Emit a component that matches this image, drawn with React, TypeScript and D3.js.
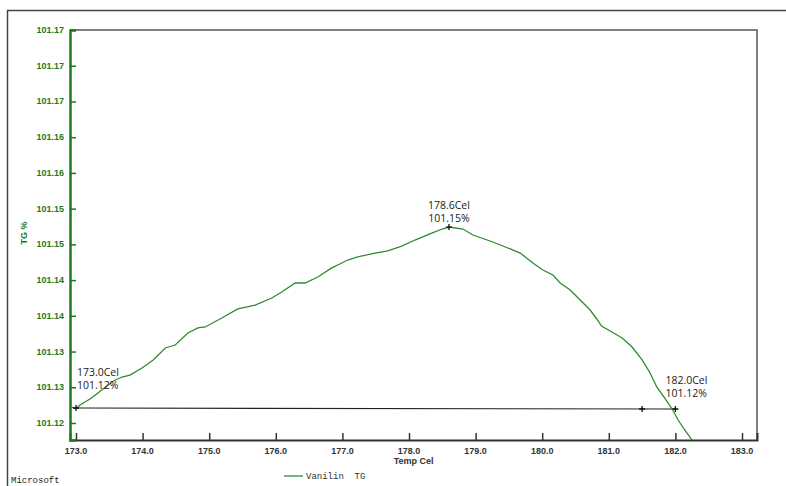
import React, { useRef, useEffect } from "react";
import * as d3 from "d3";

// Vanilin TG curve (Temp Cel, TG %)
const temps = [
  172.91, 172.97, 173.015, 173.06, 173.21, 173.33, 173.48, 173.59, 173.69, 173.81,
  173.99, 174.16, 174.34, 174.49, 174.68, 174.83, 174.94, 175.19, 175.43, 175.69,
  175.94, 176.09, 176.29, 176.44, 176.63, 176.84, 176.96, 177.08, 177.23, 177.49,
  177.68, 177.89, 178.09, 178.35, 178.5, 178.6, 178.81, 178.96, 179.26, 179.52,
  179.67, 179.86, 180.01, 180.16, 180.27, 180.42, 180.57, 180.72, 180.83, 180.89,
  181.02, 181.2, 181.35, 181.5, 181.62, 181.72, 181.84, 181.96, 182.04, 182.14,
  182.25,
];
const tg = [
  101.12504, 101.12477, 101.12477, 101.12517, 101.12596, 101.12675, 101.1278, 101.12846, 101.12885, 101.12911,
  101.13004, 101.13109, 101.13267, 101.13306, 101.13464, 101.1353, 101.13543, 101.13661, 101.1378, 101.13832,
  101.13924, 101.14003, 101.14122, 101.14122, 101.14201, 101.1432, 101.14372, 101.14424, 101.14464, 101.14516,
  101.14543, 101.14608, 101.14687, 101.1478, 101.14832, 101.14858, 101.14832, 101.14753, 101.14661, 101.1457,
  101.14516, 101.14385, 101.14293, 101.14227, 101.14122, 101.1403, 101.13898, 101.13766, 101.13635, 101.13556,
  101.1349, 101.13398, 101.1328, 101.13109, 101.12938, 101.12754, 101.12607, 101.12451, 101.12319, 101.12188,
  101.12056,
];

const xTicks = [173, 174, 175, 176, 177, 178, 179, 180, 181, 182, 183];
const yTicks = [
  101.1228, 101.1275, 101.1322, 101.1369, 101.1416, 101.1463,
  101.151, 101.1557, 101.1604, 101.1651, 101.1698, 101.1745,
];

// marked points and their labels
const marks = [
  { t: 173.0, v: 101.12477, lines: ["173.0Cel", "101.12%"], dx: 1, dy: -32, anchor: "start" },
  { t: 178.6, v: 101.14858, lines: ["178.6Cel", "101.15%"], dx: 0, dy: -18, anchor: "middle" },
  { t: 182.0, v: 101.12464, lines: ["182.0Cel", "101.12%"], dx: -10, dy: -25, anchor: "start" },
];
const baselineTick = 181.5;

const green = "#1d7a1d";
const curveColor = "#2e8b2e";

function App() {
  const svgRef = useRef<SVGSVGElement>(null);

  useEffect(() => {
    const svg = d3.select(svgRef.current);
    svg.selectAll("*").remove();

    const width = 786;
    const height = 486;
    const margin = { top: 30, right: 29, bottom: 46, left: 70 };

    const x = d3
      .scaleLinear()
      .domain([172.91, 183.225])
      .range([margin.left, width - margin.right]);
    const y = d3
      .scaleLinear()
      .domain([101.1228 - 0.476 * 0.0047, 101.1745])
      .range([height - margin.bottom, margin.top]);

    // outer frame
    svg
      .append("path")
      .attr("d", `M7.5,${height} V10.5 H${width}`)
      .attr("fill", "none")
      .attr("stroke", "#444")
      .attr("stroke-width", 1.5);

    // plot frame (top + right)
    svg
      .append("path")
      .attr(
        "d",
        `M${margin.left},${margin.top} H${width - margin.right} V${height - margin.bottom}`
      )
      .attr("fill", "none")
      .attr("stroke", "#555")
      .attr("stroke-width", 1.5);

    svg
      .append("defs")
      .append("clipPath")
      .attr("id", "plot-clip")
      .append("rect")
      .attr("x", margin.left)
      .attr("y", margin.top)
      .attr("width", width - margin.left - margin.right)
      .attr("height", height - margin.top - margin.bottom);

    // x axis
    const xAxis = svg
      .append("g")
      .attr("transform", `translate(0, ${height - margin.bottom})`)
      .call(
        d3
          .axisTop(x)
          .tickValues(xTicks)
          .tickSize(7)
          .tickFormat(() => "")
      );
    xAxis.select(".domain").attr("stroke", "#333").attr("stroke-width", 2);
    xAxis.selectAll(".tick line").attr("stroke", "#333").attr("stroke-width", 1.5);

    svg
      .append("g")
      .selectAll("text")
      .data(xTicks)
      .enter()
      .append("text")
      .attr("x", (d) => x(d))
      .attr("y", height - margin.bottom + 14)
      .attr("text-anchor", "middle")
      .attr("font-family", "Liberation Sans, Arial, sans-serif")
      .attr("font-size", 9)
      .attr("font-weight", "bold")
      .attr("fill", "#333")
      .text((d) => d3.format(".1f")(d));

    svg
      .append("text")
      .attr("x", x(178.07))
      .attr("y", height - margin.bottom + 24)
      .attr("text-anchor", "middle")
      .attr("font-family", "Liberation Sans, Arial, sans-serif")
      .attr("font-size", 9)
      .attr("font-weight", "bold")
      .attr("fill", "#333")
      .text("Temp Cel");

    // y axis
    const yAxis = svg
      .append("g")
      .attr("transform", `translate(${margin.left}, 0)`)
      .call(
        d3
          .axisRight(y)
          .tickValues(yTicks)
          .tickSize(6)
          .tickFormat(() => "")
      );
    yAxis.select(".domain").attr("stroke", green).attr("stroke-width", 2.5);
    yAxis.selectAll(".tick line").attr("stroke", green).attr("stroke-width", 1.5);

    svg
      .append("g")
      .selectAll("text")
      .data(yTicks)
      .enter()
      .append("text")
      .attr("x", margin.left - 6)
      .attr("y", (d) => y(d) + 3)
      .attr("text-anchor", "end")
      .attr("font-family", "Liberation Sans, Arial, sans-serif")
      .attr("font-size", 9)
      .attr("font-weight", "bold")
      .attr("fill", green)
      .text((d) => d3.format(".2f")(d));

    svg
      .append("text")
      .attr("transform", `translate(27, 233) rotate(-90)`)
      .attr("text-anchor", "middle")
      .attr("font-family", "Liberation Sans, Arial, sans-serif")
      .attr("font-size", 9)
      .attr("font-weight", "bold")
      .attr("fill", green)
      .text("TG %");

    // baseline between the start and end marks
    svg
      .append("line")
      .attr("x1", x(marks[0].t))
      .attr("y1", y(marks[0].v))
      .attr("x2", x(marks[2].t))
      .attr("y2", y(marks[2].v))
      .attr("stroke", "#222")
      .attr("stroke-width", 1.2);

    // curve
    const line = d3
      .line<number>()
      .x((d, i) => x(temps[i]))
      .y((d) => y(d));
    svg
      .append("path")
      .datum(tg)
      .attr("clip-path", "url(#plot-clip)")
      .attr("d", line)
      .attr("fill", "none")
      .attr("stroke", curveColor)
      .attr("stroke-width", 1.3);

    // + markers
    const plus = (cx: number, cy: number) => {
      svg
        .append("path")
        .attr("d", `M${cx - 3},${cy} H${cx + 3} M${cx},${cy - 3} V${cy + 3}`)
        .attr("stroke", "#111")
        .attr("stroke-width", 1.3);
    };
    marks.forEach((m) => plus(x(m.t), y(m.v)));
    plus(x(baselineTick), y(marks[2].v));

    // labels
    marks.forEach((m) => {
      const t = svg
        .append("text")
        .attr("font-family", "Open Sans, Liberation Sans, sans-serif")
        .attr("font-size", 10.5)
        .attr("fill", "#222")
        .attr("text-anchor", m.anchor);
      m.lines.forEach((s, i) => {
        t.append("tspan")
          .attr("x", x(m.t) + m.dx)
          .attr("y", y(m.v) + m.dy + i * 13)
          .text(s);
      });
    });

    // legend
    svg
      .append("line")
      .attr("x1", 284)
      .attr("x2", 303)
      .attr("y1", 476)
      .attr("y2", 476)
      .attr("stroke", curveColor)
      .attr("stroke-width", 1.3);
    svg
      .append("text")
      .attr("x", 306)
      .attr("y", 479)
      .attr("font-family", "Liberation Mono, DejaVu Sans Mono, monospace")
      .attr("font-size", 9)
      .attr("fill", "#333")
      .attr("xml:space", "preserve")
      .style("white-space", "pre")
      .text("Vanilin  TG");

    svg
      .append("text")
      .attr("x", 11)
      .attr("y", 483)
      .attr("font-family", "Liberation Mono, DejaVu Sans Mono, monospace")
      .attr("font-size", 9)
      .attr("fill", "#222")
      .text("Microsoft");
  }, []);

  return (
    <svg
      ref={svgRef}
      width={786}
      height={486}
      style={{ position: "absolute", left: 0, top: 0, background: "#fff" }}
    ></svg>
  );
}

export default App;
